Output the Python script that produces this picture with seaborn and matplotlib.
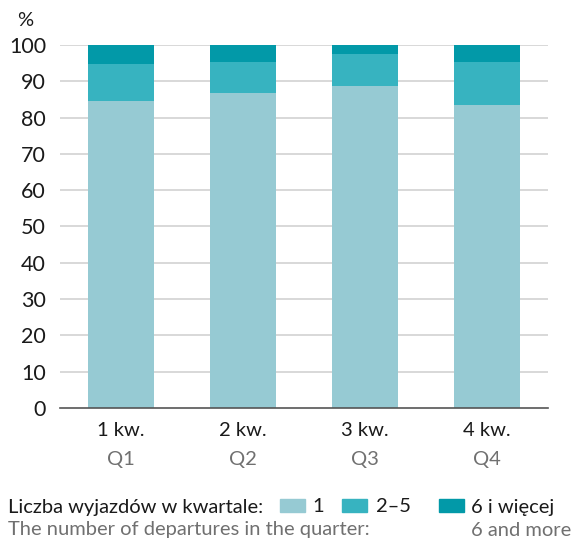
import matplotlib
matplotlib.use("Agg")
import matplotlib.pyplot as plt
import matplotlib.transforms as mtrans
import seaborn as sns
import pandas as pd
from matplotlib.patches import Rectangle

quarters_pl = ["1 kw.", "2 kw.", "3 kw.", "4 kw."]
quarters_en = ["Q1", "Q2", "Q3", "Q4"]
one = [84.7, 86.9, 88.7, 83.5]
two_five = [10.2, 8.4, 8.8, 11.8]
six_more = [5.1, 4.7, 2.5, 4.7]
yticks = [0, 10, 20, 30, 40, 50, 60, 70, 80, 90, 100]

c_one = "#96CAD3"
c_two = "#37B3C0"
c_six = "#0299A8"
FS = 14.5
BLACK = "#1a1a1a"
GREY = "#707070"

sns.set_theme(style="white")
plt.rcParams["font.family"] = ["Lato", "DejaVu Sans"]

df = pd.DataFrame({
    "q": quarters_pl,
    "one": one,
    "two": two_five,
    "six": six_more,
})
df["cum2"] = df["one"] + df["two"]
df["cum3"] = df["cum2"] + df["six"]

W, H = 573, 540
fig = plt.figure(figsize=(W / 100, H / 100), dpi=100)
ax = fig.add_axes([60 / W, (H - 408) / H, (548 - 60) / W, (408 - 45) / H])

for y in yticks[1:]:
    ax.axhline(y, color="#d2d2d2", lw=1.2, zorder=0)

kw = dict(width=0.533, ax=ax, saturation=1, linewidth=0, edgecolor="none")
sns.barplot(data=df, x="q", y="cum3", color=c_six, zorder=2, **kw)
sns.barplot(data=df, x="q", y="cum2", color=c_two, zorder=3, **kw)
sns.barplot(data=df, x="q", y="one", color=c_one, zorder=4, **kw)

ax.set_xlim(-0.5, 3.5)
ax.set_ylim(0, 100)
ax.set_yticks(yticks)
ax.set_yticklabels([str(v) for v in yticks], fontsize=15.5, color=BLACK)
ax.set_xticks(range(4))
ax.set_xticklabels([""] * 4)
ax.tick_params(axis="y", length=0, pad=10)
ax.tick_params(axis="x", length=0)
ax.set_xlabel("")
ax.set_ylabel("")
for s in ["top", "right", "left"]:
    ax.spines[s].set_visible(False)
ax.spines["bottom"].set_color("#555555")
ax.spines["bottom"].set_linewidth(1.2)
ax.spines["bottom"].set_zorder(6)

blend = mtrans.blended_transform_factory(ax.transData, fig.transFigure)
for i, (pl, en) in enumerate(zip(quarters_pl, quarters_en)):
    ax.text(i, 1 - 431 / H, pl, ha="center", va="center", fontsize=FS, color=BLACK,
            transform=blend, clip_on=False)
    ax.text(i, 1 - 459 / H, en, ha="center", va="center", fontsize=FS, color=GREY,
            transform=blend, clip_on=False)

fig.text(25 / W, 1 - 20 / H, "%", ha="center", va="center", fontsize=FS, color=BLACK)

# legend
fig.text(8 / W, 1 - 507 / H, "Liczba wyjazdów w kwartale:", ha="left", va="center",
         fontsize=FS, color=BLACK)
fig.text(8 / W, 1 - 530 / H, "The number of departures in the quarter:", ha="left", va="center",
         fontsize=FS, color=GREY)
legend_items = [(c_one, 280, "1", 312), (c_two, 342, "2–5", 376), (c_six, 439, "6 i więcej", 471)]
for col, x0, lab, tx in legend_items:
    fig.patches.append(Rectangle((x0 / W, 1 - 512 / H), 25 / W, 13 / H,
                                 transform=fig.transFigure, color=col, figure=fig))
    fig.text(tx / W, 1 - 507 / H, lab, ha="left", va="center", fontsize=FS, color=BLACK)
fig.text(471 / W, 1 - 530 / H, "6 and more", ha="left", va="center", fontsize=FS, color=GREY)

fig.savefig("out.png", dpi=100)
